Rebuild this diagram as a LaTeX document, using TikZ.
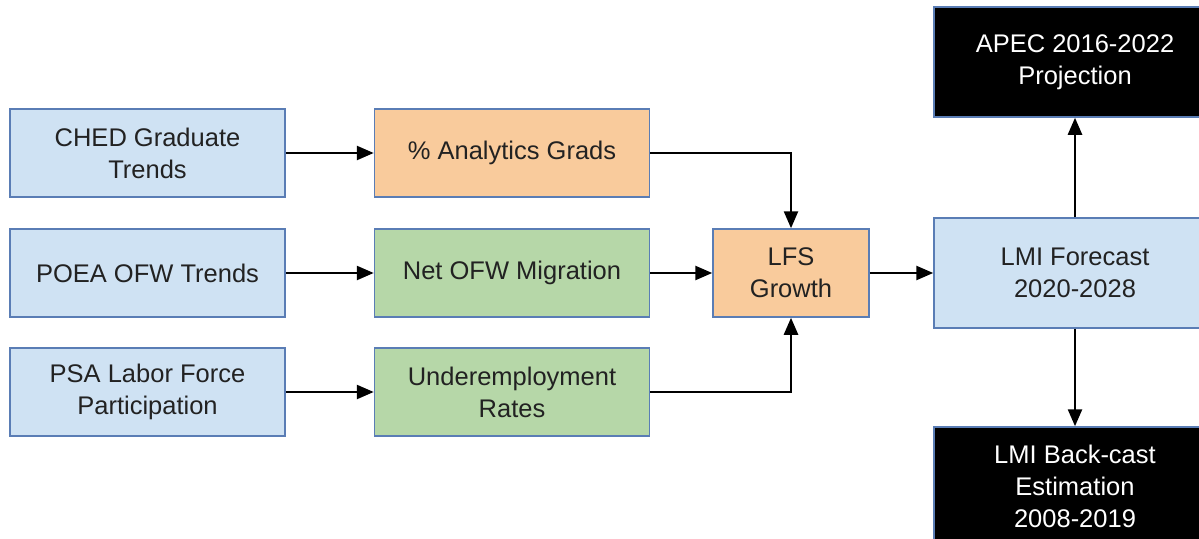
\documentclass[tikz,border=0pt]{standalone}
\usepackage{fontspec}
\setmainfont{Liberation Sans}
\usetikzlibrary{arrows.meta}
\definecolor{srcblue}{HTML}{CFE2F3}
\definecolor{stepgreen}{HTML}{B6D7A8}
\definecolor{steporange}{HTML}{F9CB9C}
\definecolor{edgeblue}{HTML}{5A7DB5}
\definecolor{txtgray}{HTML}{222222}
\begin{document}
\begin{tikzpicture}[x=1pt,y=-1pt,
  box/.style={draw=edgeblue, line width=1.5pt, align=center, text=txtgray,
    font=\fontsize{25.5}{32}\selectfont, inner sep=0pt, minimum width=275pt, minimum height=88pt},
  srcbox/.style={box, fill=srcblue},
  greenbox/.style={box, fill=stepgreen},
  orangebox/.style={box, fill=steporange},
  outbox/.style={box, fill=black, text=white, minimum width=282pt, minimum height=110pt},
  flow/.style={black, line width=2.5pt, -{Triangle[length=17pt,width=14pt]}}]
\useasboundingbox (0,0) rectangle (1199,538);

% inputs
\node [srcbox] (ched) at (147.5,153) {CHED Graduate\\Trends};
\node [srcbox] (poea) at (147.5,273) {POEA OFW Trends};
\node [srcbox] (psa) at (147.5,392) {PSA Labor Force\\Participation};

% derived rates
\node [orangebox] (grads) at (512,153) {\% Analytics Grads};
\node [greenbox] (migr) at (512,273) {Net OFW Migration};
\node [greenbox] (under) at (512,392) {Underemployment\\Rates};

\node [orangebox, minimum width=156pt] (lfs) at (791,273) {LFS\\Growth};
\node [srcbox, minimum width=282pt, minimum height=110pt] (lmi) at (1075,273) {LMI Forecast\\2020-2028};

% outputs
\node [outbox] (apec) at (1075,62) {APEC 2016-2022\\Projection};
\node [outbox, minimum height=118pt] (back) at (1075,486) {LMI Back-cast\\Estimation\\2008-2019};

\draw [flow] (ched) -- (grads);
\draw [flow] (poea) -- (migr);
\draw [flow] (psa) -- (under);
\draw [flow] (grads) -| (lfs);
\draw [flow] (migr) -- (lfs);
\draw [flow] (under) -| (lfs);
\draw [flow] (lfs) -- (lmi);
\draw [flow] (lmi) -- (apec);
\draw [flow] (lmi) -- (back);

\end{tikzpicture}
\end{document}
